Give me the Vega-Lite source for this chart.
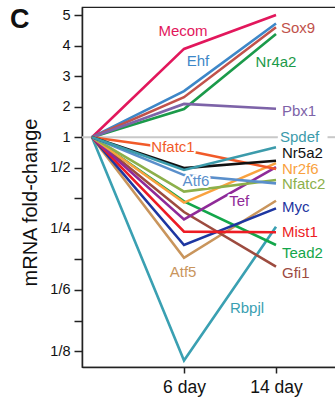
{
  "$schema": "https://vega.github.io/schema/vega-lite/v6.json",
  "autosize": "none",
  "width": 254,
  "height": 360,
  "padding": {"left": 82, "top": 7, "right": 0, "bottom": 31},
  "background": "white",
  "config": {
    "view": {"stroke": "#222", "strokeWidth": 1.2},
    "axis": {"grid": false, "domainColor": "#222", "domainWidth": 1.5, "tickColor": "#222", "tickWidth": 1.5, "labelFont": "Liberation Sans", "titleFont": "Liberation Sans", "labelColor": "#111", "titleColor": "#111", "labelOverlap": false},
    "axisY": {"labelOverlap": false},
    "axisQuantitative": {"labelOverlap": false}
  },
  "datasets": {
    "lines": [
      {"gene": "Mecom", "x": 0, "y": 1}, {"gene": "Mecom", "x": 1, "y": 3.89}, {"gene": "Mecom", "x": 2, "y": 5.0},
      {"gene": "Ehf", "x": 0, "y": 1}, {"gene": "Ehf", "x": 1, "y": 2.51}, {"gene": "Ehf", "x": 2, "y": 4.72},
      {"gene": "Sox9", "x": 0, "y": 1}, {"gene": "Sox9", "x": 1, "y": 2.31}, {"gene": "Sox9", "x": 2, "y": 4.6},
      {"gene": "Nr4a2", "x": 0, "y": 1}, {"gene": "Nr4a2", "x": 1, "y": 1.92}, {"gene": "Nr4a2", "x": 2, "y": 4.38},
      {"gene": "Pbx1", "x": 0, "y": 1}, {"gene": "Pbx1", "x": 1, "y": 2.09}, {"gene": "Pbx1", "x": 2, "y": 1.93},
      {"gene": "Rbpjl", "x": 0, "y": 1}, {"gene": "Rbpjl", "x": 1, "y": -6.31}, {"gene": "Rbpjl", "x": 2, "y": -1.93},
      {"gene": "Atf5", "x": 0, "y": 1}, {"gene": "Atf5", "x": 1, "y": -2.95}, {"gene": "Atf5", "x": 2, "y": -1.08},
      {"gene": "Gfi1", "x": 0, "y": 1}, {"gene": "Gfi1", "x": 1, "y": -1.45}, {"gene": "Gfi1", "x": 2, "y": -3.24},
      {"gene": "Tead2", "x": 0, "y": 1}, {"gene": "Tead2", "x": 1, "y": -1.1}, {"gene": "Tead2", "x": 2, "y": -2.53},
      {"gene": "Myc", "x": 0, "y": 1}, {"gene": "Myc", "x": 1, "y": -2.53}, {"gene": "Myc", "x": 2, "y": -1.33},
      {"gene": "Mist1", "x": 0, "y": 1}, {"gene": "Mist1", "x": 1, "y": -2.09}, {"gene": "Mist1", "x": 2, "y": -2.11},
      {"gene": "Tef", "x": 0, "y": 1}, {"gene": "Tef", "x": 1, "y": -1.69}, {"gene": "Tef", "x": 2, "y": 0.02},
      {"gene": "Nr2f6", "x": 0, "y": 1}, {"gene": "Nr2f6", "x": 1, "y": -1.14}, {"gene": "Nr2f6", "x": 2, "y": 0.15},
      {"gene": "Nfatc2", "x": 0, "y": 1}, {"gene": "Nfatc2", "x": 1, "y": -0.78}, {"gene": "Nfatc2", "x": 2, "y": -0.4},
      {"gene": "Atf6", "x": 0, "y": 1}, {"gene": "Atf6", "x": 1, "y": -0.24}, {"gene": "Atf6", "x": 2, "y": -0.51},
      {"gene": "Nfatc1", "x": 0, "y": 1}, {"gene": "Nfatc1", "x": 1, "y": 0.58}, {"gene": "Nfatc1", "x": 2, "y": -0.04},
      {"gene": "Nr5a2", "x": 0, "y": 1}, {"gene": "Nr5a2", "x": 1, "y": -0.01}, {"gene": "Nr5a2", "x": 2, "y": 0.23},
      {"gene": "Spdef", "x": 0, "y": 1}, {"gene": "Spdef", "x": 1, "y": -0.07}, {"gene": "Spdef", "x": 2, "y": 0.67}
    ],
    "labels": [
      {"gene": "Mecom", "x": 0.989, "y": 4.47, "align": "center"},
      {"gene": "Ehf", "x": 1.152, "y": 3.49, "align": "center"},
      {"gene": "Sox9", "x": 2.054, "y": 4.57, "align": "left"},
      {"gene": "Nr4a2", "x": 2.0, "y": 3.46, "align": "center"},
      {"gene": "Pbx1", "x": 2.065, "y": 1.86, "align": "left"},
      {"gene": "Spdef", "x": 2.043, "y": 1.0, "align": "left"},
      {"gene": "Nr5a2", "x": 2.065, "y": 0.47, "align": "left"},
      {"gene": "Nr2f6", "x": 2.065, "y": -0.03, "align": "left"},
      {"gene": "Nfatc2", "x": 2.065, "y": -0.53, "align": "left"},
      {"gene": "Myc", "x": 2.065, "y": -1.27, "align": "left"},
      {"gene": "Mist1", "x": 2.065, "y": -2.09, "align": "left"},
      {"gene": "Tead2", "x": 2.065, "y": -2.78, "align": "left"},
      {"gene": "Gfi1", "x": 2.065, "y": -3.46, "align": "left"},
      {"gene": "Nfatc1", "x": 0.88, "y": 0.69, "align": "center"},
      {"gene": "Atf6", "x": 1.13, "y": -0.44, "align": "center"},
      {"gene": "Tef", "x": 1.6, "y": -1.09, "align": "center"},
      {"gene": "Atf5", "x": 0.99, "y": -3.41, "align": "center"},
      {"gene": "Rbpjl", "x": 1.685, "y": -4.6, "align": "center"}
    ],
    "panel": [
      {"panel": "C", "x": -0.891, "y": 4.574}
    ],
    "ref": [
      {"x": -0.12, "x2": 2.02, "y": 1},
      {"x": 2.56, "x2": 2.7, "y": 1}
    ]
  },
  "encoding": {
    "x": {"field": "x", "type": "quantitative", "scale": {"domain": [-0.1087, 2.652], "nice": false, "zero": false},
      "axis": {"values": [1, 2], "labelExpr": "datum.value == 1 ? '6 day' : '14 day'", "labelFontSize": 17.5, "tickSize": 6, "labelPadding": 5, "title": null, "labelOverlap": false}},
    "y": {"field": "y", "type": "quantitative", "scale": {"domain": [-6.522, 5.262], "nice": false, "zero": false},
      "axis": {"values": [5, 4, 3, 2, 1, 0, -1, -2, -3, -4, -5, -6], "labelExpr": "datum.value == 5 ? '5' : datum.value == 4 ? '4' : datum.value == 3 ? '3' : datum.value == 2 ? '2' : datum.value == 1 ? '1' : datum.value == 0 ? '1/2' : datum.value == -2 ? '1/4' : datum.value == -4 ? '1/6' : datum.value == -6 ? '1/8' : ''",
        "labelOverlap": false, "labelFlush": false, "labelBound": false,
        "labelFontSize": 14.5, "tickSize": 8, "labelPadding": 4, "title": "mRNA fold-change", "titleFontSize": 20, "titleFontWeight": "normal", "titleAngle": -90, "titleX": -46, "titleY": 195, "titleBaseline": "alphabetic", "titleAlign": "center"}}
  },
  "layer": [
    {
      "data": {"name": "ref"},
      "mark": {"type": "rule", "color": "#c8c8c8", "strokeWidth": 2, "clip": true},
      "encoding": {"x2": {"field": "x2"}}
    },
    {
      "data": {"name": "lines"},
      "mark": {"type": "line", "strokeWidth": 2.6, "clip": true},
      "encoding": {
        "color": {"field": "gene", "type": "nominal", "legend": null,
          "scale": {"domain": ["Mecom", "Ehf", "Sox9", "Nr4a2", "Pbx1", "Spdef", "Nr5a2", "Nfatc1", "Atf6", "Nfatc2", "Nr2f6", "Tef", "Myc", "Mist1", "Tead2", "Gfi1", "Atf5", "Rbpjl"],
            "range": ["#e2175c", "#3d87c8", "#c1524b", "#1b9a4a", "#7d63a8", "#3c9bab", "#111111", "#f15a29", "#5a8fcb", "#8cb04b", "#f9a23f", "#8f2a98", "#1d36a1", "#ed1c24", "#13a64a", "#9d4b3f", "#c9955c", "#3aa0b2"]}},
        "detail": {"field": "gene"}
      }
    },
    {
      "data": {"name": "labels"},
      "transform": [{"filter": {"field": "gene", "oneOf": ["Nfatc1", "Atf6", "Tef"]}}],
      "mark": {"type": "text", "font": "Liberation Sans", "fontSize": 15, "align": "center", "baseline": "middle", "stroke": "white", "strokeWidth": 4, "fill": "white", "strokeJoin": "round"},
      "encoding": {"text": {"field": "gene"}}
    },
    {
      "data": {"name": "labels"},
      "transform": [{"filter": {"field": "gene", "oneOf": ["Spdef"]}}],
      "mark": {"type": "text", "font": "Liberation Sans", "fontSize": 15, "align": "left", "baseline": "middle", "stroke": "white", "strokeWidth": 6, "fill": "white", "strokeJoin": "round"},
      "encoding": {"text": {"field": "gene"}}
    },
    {
      "data": {"name": "labels"},
      "transform": [{"filter": {"field": "align", "equal": "center"}}],
      "mark": {"type": "text", "font": "Liberation Sans", "fontSize": 15, "align": "center", "baseline": "middle"},
      "encoding": {
        "text": {"field": "gene"},
        "color": {"field": "gene", "type": "nominal", "legend": null}
      }
    },
    {
      "data": {"name": "labels"},
      "transform": [{"filter": {"field": "align", "equal": "left"}}],
      "mark": {"type": "text", "font": "Liberation Sans", "fontSize": 15, "align": "left", "baseline": "middle"},
      "encoding": {
        "text": {"field": "gene"},
        "color": {"field": "gene", "type": "nominal", "legend": null}
      }
    },
    {
      "data": {"name": "panel"},
      "mark": {"type": "text", "font": "Liberation Sans", "fontSize": 27, "fontWeight": "bold", "align": "left", "baseline": "alphabetic", "clip": false, "color": "#111"},
      "encoding": {"text": {"field": "panel"}}
    }
  ]
}
